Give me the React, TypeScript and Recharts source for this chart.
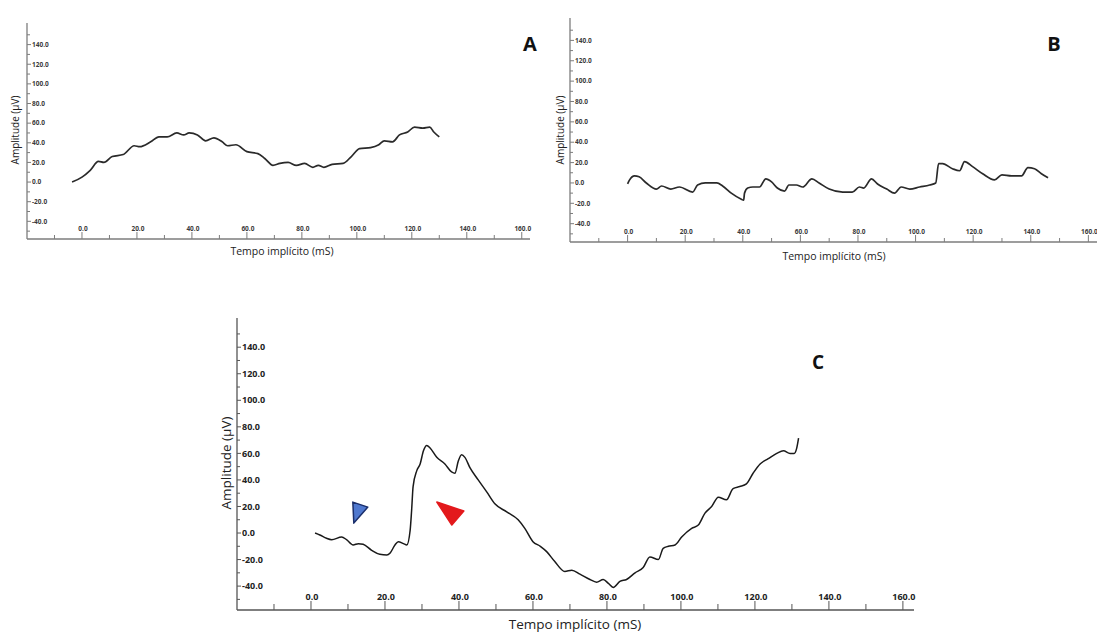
import { LineChart, Line, XAxis, YAxis, ReferenceDot } from 'recharts'

// Painel A
const A_TIME = [-3.6, 0, 3, 6, 8, 11, 15, 19, 21, 25, 28, 31, 34.5, 37, 39, 42, 45, 48, 51, 53, 56, 60, 64, 66.5, 69.5, 72, 75, 78, 81, 84, 86, 88, 91, 95, 98, 101, 105, 108, 110, 113, 115.5, 118.5, 121, 124, 126.5, 128, 130]
const A_AMP = [0, 5, 12, 21, 20, 26, 28, 37, 36, 41, 46, 46, 50, 48, 50, 48, 42, 45, 41, 37, 38, 31, 29, 24, 17, 19, 20, 17, 19, 15, 17, 15, 18, 19, 26, 34, 35, 38, 42, 41, 48, 51, 56, 55, 56, 51, 46]

// Painel B
const B_TIME = [0, 0.7, 2.4, 4, 6.5, 10, 11.8, 15, 18, 22.6, 24.3, 27, 31, 33, 36, 39.5, 40.3, 40.6, 41.7, 43.5, 45.8, 48, 50, 52, 54.5, 56, 58.6, 60.8, 64, 66.5, 70, 74.7, 78, 80.5, 82, 84.7, 86.8, 90, 92.7, 95, 98, 101.4, 104.9, 107, 108, 109.4, 112.8, 115.3, 117, 119.8, 123.3, 127.4, 130, 133.3, 136.8, 139, 141.3, 143.7, 146]
const B_AMP = [-1, 3, 7, 6, 0, -6, -3, -6, -4, -9, -2, 0, 0, -3, -10, -16, -17, -10, -5, -4, -4, 4, 1, -5, -8, -2, -2, -4, 4, 0, -6, -9, -9, -4, -5, 4, -1, -6, -10, -4, -6, -4, -2, 0, 19, 19, 14, 12, 21, 16, 9, 3, 8, 7, 7, 15, 14, 9, 5]

// Painel C
const C_TIME = [1.1, 2.4, 4.2, 5.6, 8.3, 9.6, 11.4, 12.8, 14.1, 16.4, 18.6, 20.5, 21.4, 22.7, 23.6, 25, 25.9, 26.8, 27.2, 27.6, 28.6, 29.5, 30.4, 31.3, 32.2, 34, 36.2, 38, 38.9, 39.8, 40.7, 41.6, 43, 45.2, 47.5, 49.7, 52.9, 56, 57.8, 60, 62, 63.7, 65.9, 68.6, 70.5, 72.7, 75.4, 77.2, 79, 80.4, 81.7, 83.5, 85.3, 87.6, 89.8, 91.6, 93.9, 95.2, 96.6, 98.4, 100.2, 102.9, 104.7, 106.5, 108.3, 110.1, 112.3, 114.1, 115.9, 117.7, 119.5, 121.4, 123.6, 125.9, 127.7, 129.5, 130.6, 131.3, 131.8]
const C_AMP = [0, -1.5, -4, -5, -3, -5, -9, -8, -8.5, -13, -16, -16.5, -15, -9, -6.5, -8, -9, 2, 17, 35, 47, 52, 62, 66, 64, 57, 52, 46, 45, 54, 59, 57, 49, 40, 31, 22, 16, 10, 3.5, -6.5, -10, -14, -21.5, -29, -28, -31, -35, -37, -35, -38, -41, -36.5, -35, -30, -26, -18, -20, -11.5, -10, -9, -3, 3.5, 6, 15, 20, 27, 25, 33.5, 35, 37, 45, 52, 56, 60, 62, 60, 60, 64, 71.5]

// marcadores (setas) no painel C
const MARKER_T = [13.2, 37.8]
const MARKER_A = [16.5, 15.8]

const X_TICKS = [-10, 0, 10, 20, 30, 40, 50, 60, 70, 80, 90, 100, 110, 120, 130, 140, 150, 160]
const Y_TICKS = [-50, -40, -30, -20, -10, 0, 10, 20, 30, 40, 50, 60, 70, 80, 90, 100, 110, 120, 130, 140, 150]
const X_DOMAIN = [-20, 163]
const Y_DOMAIN = [-58, 162]

const FONT = '"Open Sans", "Noto Sans", sans-serif'

type Sty = {
  axis: string
  label: string
  line: string
  fs: number
  xMaj: number
  xMin: number
  yMaj: number
  yMin: number
}

const SMALL: Sty = { axis: '#7d7d7d', label: '#3a3a3a', line: '#2a2a2a', fs: 6.5, xMaj: 7, xMin: 4, yMaj: 4, yMin: 3 }
const BIG: Sty = { axis: '#555', label: '#222', line: '#1a1a1a', fs: 9, xMaj: 9, xMin: 6, yMaj: 4, yMin: 3 }

function XTick(props: any) {
  const { x, y, payload, s } = props
  const v = payload.value
  const major = v % 20 === 0
  return (
    <g>
      <line x1={x} x2={x} y1={y} y2={y - (major ? s.xMaj : s.xMin)} stroke={s.axis} strokeWidth={1} />
      {major && (
        <text x={x + 1} y={y - s.xMaj - 1} textAnchor="middle" fontSize={s.fs} fontWeight={700} fill={s.label} fontFamily={FONT}>
          {v.toFixed(1)}
        </text>
      )}
    </g>
  )
}

function YTick(props: any) {
  const { x, y, payload, s } = props
  const v = payload.value
  const major = v % 20 === 0
  return (
    <g>
      <line x1={x} x2={x + (major ? s.yMaj : s.yMin)} y1={y} y2={y} stroke={s.axis} strokeWidth={1} />
      {major && (
        <text x={x + s.yMaj + 1} y={y} dy="0.35em" textAnchor="start" fontSize={s.fs} fontWeight={700} fill={s.label} fontFamily={FONT}>
          {v.toFixed(1)}
        </text>
      )}
    </g>
  )
}

function Panel({ time, amp, width, height, margin, s, lineW, children }: any) {
  const data = time.map((t: number, i: number) => ({ t, v: amp[i] }))
  return (
    <LineChart width={width} height={height} data={data} margin={margin}>
      <XAxis
        type="number" dataKey="t" domain={X_DOMAIN} ticks={X_TICKS} interval={0}
        mirror tickSize={0} tickMargin={0} tickLine={false} allowDataOverflow
        axisLine={{ stroke: s.axis, strokeWidth: 1.3 }}
        tick={(p: any) => <XTick {...p} s={s} />}
      />
      <YAxis
        type="number" domain={Y_DOMAIN} ticks={Y_TICKS} interval={0}
        mirror tickSize={0} tickMargin={0} tickLine={false} allowDataOverflow
        axisLine={{ stroke: s.axis, strokeWidth: 1.3 }}
        tick={(p: any) => <YTick {...p} s={s} />}
      />
      <Line type="monotone" dataKey="v" stroke={s.line} strokeWidth={lineW} dot={false} isAnimationActive={false} />
      {children}
    </LineChart>
  )
}

function Tri({ cx, cy, pts, fill, stroke }: any) {
  const d = pts.map((p: number[]) => `${cx + p[0]},${cy + p[1]}`).join(' ')
  return <polygon points={d} fill={fill} stroke={stroke} strokeWidth={1.5} strokeLinejoin="round" />
}

const text = (extra: any) => ({
  position: 'absolute' as const,
  fontFamily: FONT,
  color: '#222',
  whiteSpace: 'nowrap' as const,
  transform: 'translate(-50%, -50%)',
  ...extra,
})

export default function App() {
  return (
    <div style={{ position: 'relative', width: 1097, height: 632, background: '#fff', overflow: 'hidden' }}>
      <style>{'body{margin:0}'}</style>

      {/* A */}
      <div style={{ position: 'absolute', left: 0, top: 0 }}>
        <Panel time={A_TIME} amp={A_AMP} width={560} height={270} s={SMALL} lineW={1.7}
          margin={{ top: 23, left: 27, right: 30, bottom: 31 }} />
      </div>
      <div style={text({ left: 530, top: 43, fontSize: 20, fontWeight: 700, color: '#111' })}>A</div>
      <div style={text({ left: 15, top: 130, fontSize: 10, transform: 'translate(-50%, -50%) rotate(-90deg)' })}>Amplitude (µV)</div>
      <div style={text({ left: 282, top: 251, fontSize: 10.5 })}>Tempo implícito (mS)</div>

      {/* B */}
      <div style={{ position: 'absolute', left: 550, top: 0 }}>
        <Panel time={B_TIME} amp={B_AMP} width={547} height={270} s={SMALL} lineW={1.7}
          margin={{ top: 18, left: 20, right: 0, bottom: 28 }} />
      </div>
      <div style={text({ left: 1054, top: 43, fontSize: 20, fontWeight: 700, color: '#111' })}>B</div>
      <div style={text({ left: 560, top: 130, fontSize: 10, transform: 'translate(-50%, -50%) rotate(-90deg)' })}>Amplitude (µV)</div>
      <div style={text({ left: 834, top: 256, fontSize: 10.5 })}>Tempo implícito (mS)</div>

      {/* C */}
      <div style={{ position: 'absolute', left: 200, top: 290 }}>
        <Panel time={C_TIME} amp={C_AMP} width={750} height={342} s={BIG} lineW={1.5}
          margin={{ top: 28, left: 37, right: 36, bottom: 22 }}>
          <ReferenceDot x={MARKER_T[0]} y={MARKER_A[0]} r={0}
            shape={(p: any) => <Tri {...p} pts={[[-7, -9], [8, -4], [-6, 12]]} fill="#4f78cf" stroke="#1b2f6b" />} />
          <ReferenceDot x={MARKER_T[1]} y={MARKER_A[1]} r={0}
            shape={(p: any) => <Tri {...p} pts={[[-14, -10], [13, -1], [1, 13]]} fill="#e3191c" stroke="#e3191c" />} />
        </Panel>
      </div>
      <div style={text({ left: 818, top: 362, fontSize: 19, fontWeight: 700, color: '#111' })}>C</div>
      <div style={text({ left: 226, top: 463, fontSize: 13.5, transform: 'translate(-50%, -50%) rotate(-90deg)' })}>Amplitude (µV)</div>
      <div style={text({ left: 575, top: 624, fontSize: 13.5 })}>Tempo implícito (mS)</div>
    </div>
  )
}
